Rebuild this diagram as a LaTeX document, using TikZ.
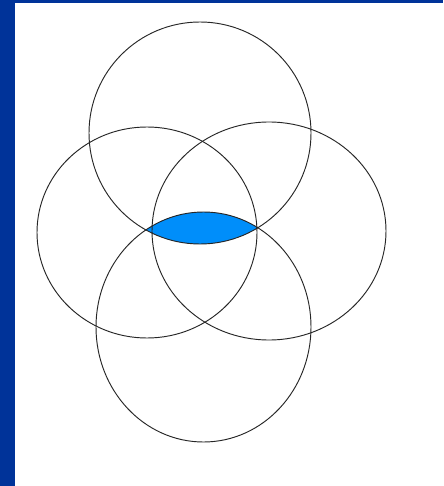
\documentclass[tikz,border=0pt]{standalone}
\usepackage{xcolor}
\definecolor{frameblue}{RGB}{0,51,153}
\definecolor{lensblue}{RGB}{0,142,250}
\usetikzlibrary{positioning}

\begin{document}
\begin{tikzpicture}[x=0.03cm,y=-0.03cm,
  ring/.style={draw=black!85,line width=0.8pt},
  lens/.style={fill=lensblue}]
  % Frame
  \fill[frameblue] (0,0) rectangle (443,486);
  \fill[white] (15,3) rectangle (443,486);
  \useasboundingbox (0,0) rectangle (443,486);
  % Centres
  \coordinate (ctop) at (200,133);
  \coordinate (cleft) at (147,232.5);
  \coordinate (cright) at (269,231);
  \coordinate (cbottom) at (203.5,327);
  % Shaded lens: top ring meets bottom ring
  \begin{scope}
    \clip (ctop) ellipse [x radius=111, y radius=111];
    \fill[lens] (cbottom) ellipse [x radius=107.5, y radius=115];
  \end{scope}
  % Rings
  \draw[ring] (ctop) ellipse [x radius=111, y radius=111];
  \draw[ring] (cleft) ellipse [x radius=110, y radius=105.5];
  \draw[ring] (cright) ellipse [x radius=117, y radius=109];
  \draw[ring] (cbottom) ellipse [x radius=107.5, y radius=115];
\end{tikzpicture}
\end{document}
